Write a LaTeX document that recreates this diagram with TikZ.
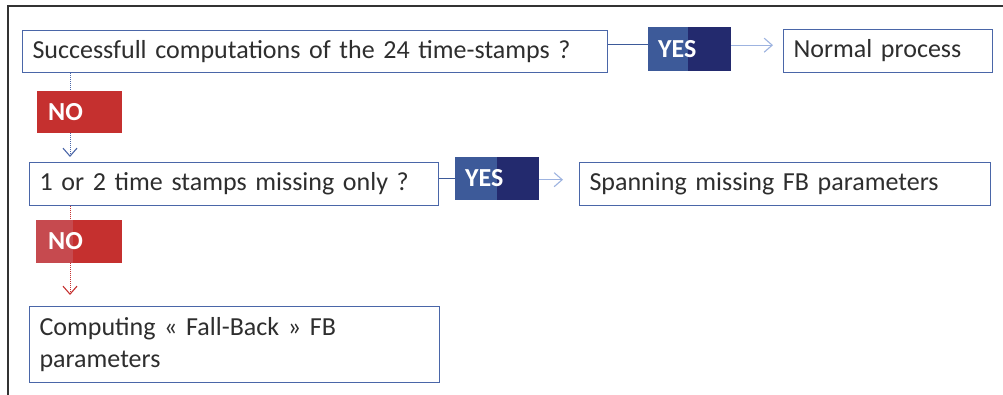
\documentclass[tikz,border=0pt]{standalone}
\usepackage{fontspec}
\setmainfont{Carlito}
\usetikzlibrary{arrows.meta,calc}
\definecolor{boxline}{HTML}{4A66A8}
\definecolor{txt}{HTML}{2E2E2E}
\definecolor{yeslight}{HTML}{3D5A99}
\definecolor{yesdark}{HTML}{232A6E}
\definecolor{nored}{HTML}{C5302F}
\definecolor{noredlight}{HTML}{C64A4F}
\definecolor{arrowblue}{HTML}{9DB3E0}
\definecolor{dotblue}{HTML}{4A66A8}
\definecolor{dotred}{HTML}{C5302F}
\tikzset{
  x=1pt, y=-1pt,
  procbox/.style={draw=boxline, line width=1.1pt, fill=white, anchor=north west,
    inner xsep=10pt, inner ysep=0pt, align=left, text=txt,
    font=\fontsize{26}{32}\selectfont},
  tagbox/.style={anchor=north west, inner sep=0pt, text=white,
    font=\fontsize{26}{30}\selectfont\bfseries},
  tagtext/.style={text=white, font=\fontsize{26}{30}\selectfont\bfseries, anchor=west, inner sep=0pt},
  joinline/.style={draw=yeslight, line width=1.1pt},
  vtip/.style={-{Straight Barb[length=8pt,width=14pt,line width=1.1pt]}},
  okarrow/.style={draw=arrowblue, line width=1.1pt, vtip},
  dotline/.style={densely dotted, line width=1pt},
}
\begin{document}
\begin{tikzpicture}
\useasboundingbox (0,0) rectangle (1003,395);
\fill[white] (0,0) rectangle (1003,395);
% frame
\draw[line width=1.6pt, draw=black!80] (8,395) -- (8,6) -- (1003,6);

% boxes
\node[procbox, minimum width=585pt, minimum height=42pt, text width=565pt] (box1) at (22,30)
  {Successfull computations of the 24 time-stamps ?};
\node[procbox, minimum width=209pt, minimum height=43pt, text width=189pt] (normal) at (783,29)
  {Normal process};
\node[procbox, minimum width=409pt, minimum height=43pt, text width=389pt] (box2) at (29,162)
  {1 or 2 time stamps missing only ?};
\node[procbox, minimum width=411pt, minimum height=43pt, text width=391pt] (span) at (579,162)
  {Spanning missing FB parameters};
\node[procbox, minimum width=410pt, minimum height=76pt, text width=390pt] (box3) at (29,306)
  {Computing « Fall-Back » FB\\parameters};

% YES tags
\fill[yeslight] (648,27) rectangle (688,71);
\fill[yesdark] (688,27) rectangle (731,71);
\node[tagbox, minimum width=83pt, minimum height=44pt] (yes1) at (648,27) {};
\node[tagtext] (yes1t) at (658,49) {YES};

\fill[yeslight] (455,157) rectangle (497,200);
\fill[yesdark] (497,157) rectangle (539,200);
\node[tagbox, minimum width=84pt, minimum height=43pt] (yes2) at (455,157) {};
\node[tagtext] (yes2t) at (465,178.5) {YES};

% NO tags
\fill[nored] (37,91) rectangle (122,133);
\node[tagbox, minimum width=85pt, minimum height=42pt] (no1) at (37,91) {};
\node[tagtext] (no1t) at (48,112) {NO};

\fill[noredlight] (36,220) rectangle (73,263);
\fill[nored] (73,220) rectangle (122,263);
\node[tagbox, minimum width=86pt, minimum height=43pt] (no2) at (36,220) {};
\node[tagtext] (no2t) at (48,241.5) {NO};

% connectors
\coordinate (vx) at (70,0);
\draw[joinline] ([yshift=7pt]box1.east) -- ([yshift=7pt]box1.east -| yes1.west);
\draw[okarrow, shorten >=10pt] ([yshift=4pt]yes1.east) -- ([yshift=4pt]yes1.east -| normal.west);
\draw[joinline] (box2.east |- yes2.west) -- (yes2.west);
\draw[okarrow, shorten >=16pt] ([yshift=-1pt]yes2.east) -- ([yshift=-1pt]yes2.east -| span.west);

\draw[dotline, draw=dotblue] (box1.south -| vx) -- (no1.north -| vx);
\draw[dotline, draw=dotblue, vtip, shorten >=5pt] (no1.south -| vx) -- (box2.north -| vx);
\draw[dotline, draw=dotred] (box2.south -| vx) -- (no2.north -| vx);
\draw[dotline, draw=dotred, vtip, shorten >=11pt] (no2.south -| vx) -- (box3.north -| vx);
\end{tikzpicture}
\end{document}
